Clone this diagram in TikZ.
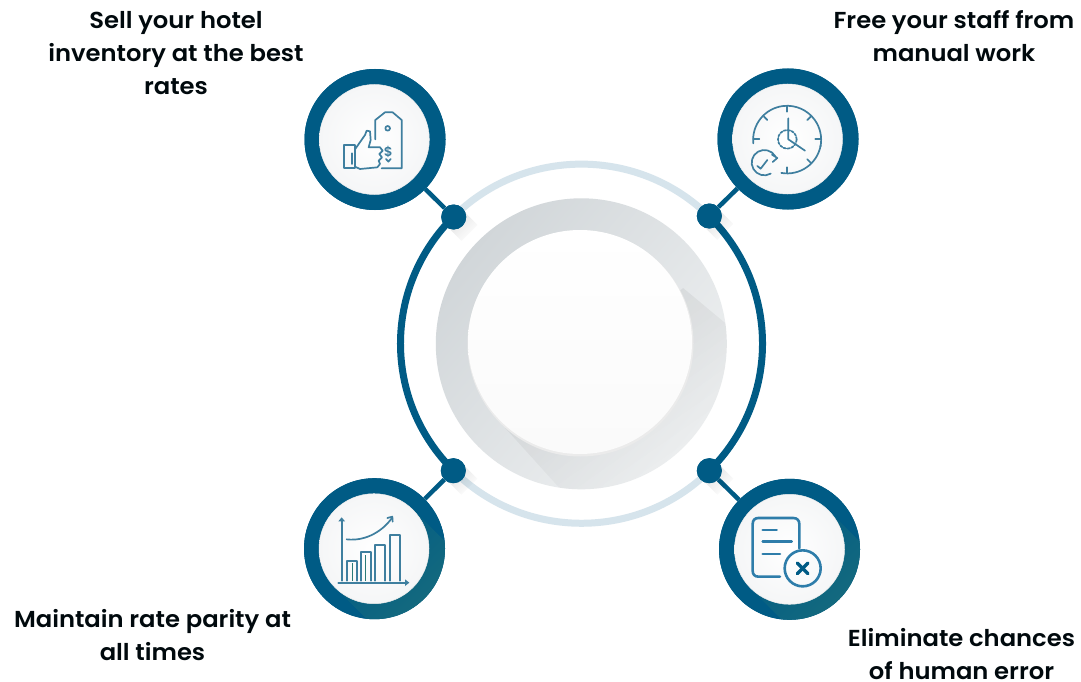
\documentclass[tikz,border=0pt]{standalone}
\usepackage{fontspec}
\setmainfont{Poppins}[UprightFont=* SemiBold,FakeStretch=1.05]
\usetikzlibrary{fadings,calc}
\definecolor{navy}{HTML}{005B85}
\definecolor{pale}{HTML}{D6E4EC}
\definecolor{tealsh}{HTML}{2A7A78}
\definecolor{iconc}{HTML}{3F7F9F}
\definecolor{iconb}{HTML}{2E7DAA}
\definecolor{faceedge}{HTML}{F5F6F7}
\definecolor{dialdark}{HTML}{D1D6D9}
\definecolor{diallight}{HTML}{EFF1F2}
\tikzset{
  ringdisc/.style={circle,fill=navy,inner sep=0pt,minimum size=141pt},
  facedisc/.style={circle,inner sep=0pt,minimum size=110pt,inner color=white,outer color=faceedge,draw=black!7,line width=.5pt},
  hub/.style={circle,fill=navy,inner sep=0pt,minimum size=25pt},
  stem/.style={draw=navy,line width=4.5pt},
  arcdark/.style={draw=navy,line width=7pt},
  arclight/.style={draw=pale,line width=7pt},
  label/.style={align=center,inner sep=0pt,text=black!90!navy,font=\fontsize{23.1}{33}\selectfont},
  iconline/.style={draw=iconc,line width=1.7pt,line join=round,line cap=round},
  iconthick/.style={draw=iconb,line width=2.6pt,line join=round,line cap=round},
}
\newcommand{\hubshadow}[1]{\fill[black,opacity=.13,path fading=west,fading angle=135] ($(#1)+(-8,8)$) -- ($(#1)+(8,-8)$) -- ($(#1)+(24,8)$) -- ($(#1)+(8,24)$) -- cycle;}
\begin{document}
\begin{tikzpicture}[x=1pt,y=-1pt]
\useasboundingbox (0,0) rectangle (1081,682);
\fill[white] (0,0) rectangle (1081,682);
\coordinate (mid) at (581.5,343.7);
% outer ring
\draw[arclight] ($(mid)+(-128,-127)$) arc[start angle=225,end angle=315,x radius=181,y radius=179.5];
\draw[arclight] ($(mid)+(-128,127)$) arc[start angle=135,end angle=45,x radius=181,y radius=179.5];
\draw[arcdark] ($(mid)+(-128,-127)$) arc[start angle=225,end angle=135,x radius=181,y radius=179.5];
\draw[arcdark] ($(mid)+(128,-127)$) arc[start angle=-45,end angle=45,x radius=181,y radius=179.5];
% dial
\shade[left color=dialdark,right color=diallight,shading angle=50] (581.3,343.8) circle[radius=145.5];
\begin{scope}
\clip (581.3,343.8) circle[radius=145.5];
\fill[black,opacity=.07,path fading=west,fading angle=130] (683,288) -- (760,352) -- (760,500) -- (570,500) -- (505,428) -- cycle;
\end{scope}
\fill[black!8] (580.5,343.5) circle[radius=113];
\shade[top color=white,bottom color=white!98!black] (580,342) circle[radius=112];
% connectors
\node[hub] (dTL) at (453.7,217) {};
\node[hub] (dTR) at (709.3,216) {};
\node[hub] (dBL) at (453.3,470.7) {};
\node[hub] (dBR) at (709.3,470.7) {};
\node[ringdisc] (rTL) at (375,139.5) {};
\node[ringdisc] (rTR) at (788,139) {};
\node[ringdisc] (rBL) at (374.5,548.7) {};
\node[ringdisc] (rBR) at (789.5,549.3) {};
\draw[stem] (rTL) -- (dTL);
\draw[stem] (rTR) -- (dTR);
\draw[stem] (rBL) -- (dBL);
\draw[stem] (rBR) -- (dBR);
\node[ringdisc] at (rTL) {};
\node[ringdisc] at (rTR) {};
\node[ringdisc] at (rBL) {};
\node[ringdisc] at (rBR) {};
\hubshadow{dTL}
\hubshadow{dTR}
\hubshadow{dBL}
\hubshadow{dBR}
\node[hub] at (dTL) {};
\node[hub] at (dTR) {};
\node[hub] at (dBL) {};
\node[hub] at (dBR) {};
% teal long shadows
\begin{scope}
\clip (rBL) circle[radius=70.5];
\fill[tealsh,opacity=.75,path fading=west,fading angle=-45] ($(rBL)+(39,-39)$) -- ($(rBL)+(110,32)$) -- ($(rBL)+(32,110)$) -- ($(rBL)+(-39,39)$) -- cycle;
\end{scope}
\begin{scope}
\clip (rBR) circle[radius=70.5];
\fill[tealsh,opacity=.75,path fading=west,fading angle=-45] ($(rBR)+(39,-39)$) -- ($(rBR)+(110,32)$) -- ($(rBR)+(32,110)$) -- ($(rBR)+(-39,39)$) -- cycle;
\end{scope}
% faces
\node[facedisc] (fTL) at (374.3,139.5) {};
\node[facedisc] (fTR) at (787.5,139) {};
\node[facedisc] (fBL) at (374,548.7) {};
\node[facedisc] (fBR) at (789.5,549.3) {};
% icon: thumb and price tag
\begin{scope}[shift={(300,60)},x=.33333pt,y=-.33333pt]
\draw[iconline] (226,238) -- (226,180) -- (255,157) -- (278,157) -- (305,180) -- (305,325) -- (245,325);
\draw[iconline] (263,205) circle[radius=7];
\draw[iconline] (133,255) rectangle (165,325);
\draw[iconline] (155,280) -- (155,312);
\draw[iconline] (165,268) -- (195,225) -- (200,212) -- (210,214) -- (212,240) -- (206,262) -- (240,262) -- (248,272) -- (238,282) -- (246,292) -- (236,302) -- (240,312) -- (232,322) -- (180,327) -- (165,320);
\node[inner sep=0pt,text=iconc,font=\fontsize{13}{13}\selectfont] (dollar) at (265,277) {\$};
\draw[iconline] (258,297) -- (265,305) -- (272,297);
\end{scope}
% icon: clock
\begin{scope}[shift={(690,60)},x=.33333pt,y=-.33333pt]
\draw[iconline] (190,250) arc[start angle=174,end angle=372,radius=102];
\draw[iconline] (392,256) arc[start angle=10,end angle=100,radius=102];
\draw[iconline,dash pattern=on 2.5pt off 1.5pt] (292,238) circle[radius=28];
\draw[iconline] (295,175) -- (295,238) -- (345,272);
\draw[iconline] (292,138) -- (292,155);
\draw[iconline] (190,238) -- (208,238);
\draw[iconline] (394,238) -- (376,238);
\draw[iconline] (292,340) -- (292,322);
\draw[iconline] (222,170) -- (232,180);
\draw[iconline] (362,170) -- (352,180);
\draw[iconline] (362,308) -- (352,298);
\draw[iconline] (256,289) arc[start angle=330,end angle=60,radius=38];
\draw[iconline] (202,318) -- (212,326) -- (232,300);
\draw[iconline] (246,284) -- (262,294) -- (248,306);
\end{scope}
% icon: bar chart
\begin{scope}[shift={(300,450)},x=.33333pt,y=-.33333pt]
\draw[iconline] (125,392) -- (125,210);
\fill[iconc] (115,214) -- (125,202) -- (135,214) -- cycle;
\draw[iconline] (115,398) -- (322,398);
\fill[iconc] (315,388) -- (328,398) -- (315,408) -- cycle;
\draw[iconline] (140,392) -- (140,332) -- (170,332) -- (170,392);
\draw[iconline] (182,392) -- (182,305) -- (212,305) -- (212,392);
\draw[iconline] (225,392) -- (225,285) -- (255,285) -- (255,392);
\draw[iconline] (270,392) -- (270,255) -- (300,255) -- (300,392);
\draw[draw=tealsh,line width=1pt] (156,340) -- (156,392) (197,315) -- (197,392);
\draw[iconline] (140,268) .. controls (200,275) and (250,240) .. (275,205);
\draw[iconline] (262,204) -- (277,200) -- (278,215);
\end{scope}
% icon: document with cross
\begin{scope}[shift={(690,450)},x=.33333pt,y=-.33333pt]
\draw[iconthick] (270,380) -- (205,380) .. controls (193,380) and (188,372) .. (188,362) -- (188,222) .. controls (188,210) and (195,204) .. (205,204) -- (310,204) .. controls (322,204) and (328,212) .. (328,222) -- (328,295);
\draw[iconthick] (218,240) -- (260,240);
\draw[iconthick] (218,275) -- (305,275);
\draw[iconthick] (218,312) -- (270,312);
\draw[iconthick] (338,355) circle[radius=54];
\draw[iconthick,draw=navy,line width=3.4pt] (322,339) -- (354,371);
\draw[iconthick,draw=navy,line width=3.4pt] (354,339) -- (322,371);
\end{scope}
% labels
\node[label] (lTL) at (176,53) {Sell your hotel\\inventory at the best\\rates};
\node[label] (lTR) at (954,36.5) {Free your staff from\\manual work};
\node[label] (lBL) at (152.5,635.5) {Maintain rate parity at\\all times};
\node[label] (lBR) at (961.5,654) {Eliminate chances\\of human error};
\end{tikzpicture}
\end{document}
